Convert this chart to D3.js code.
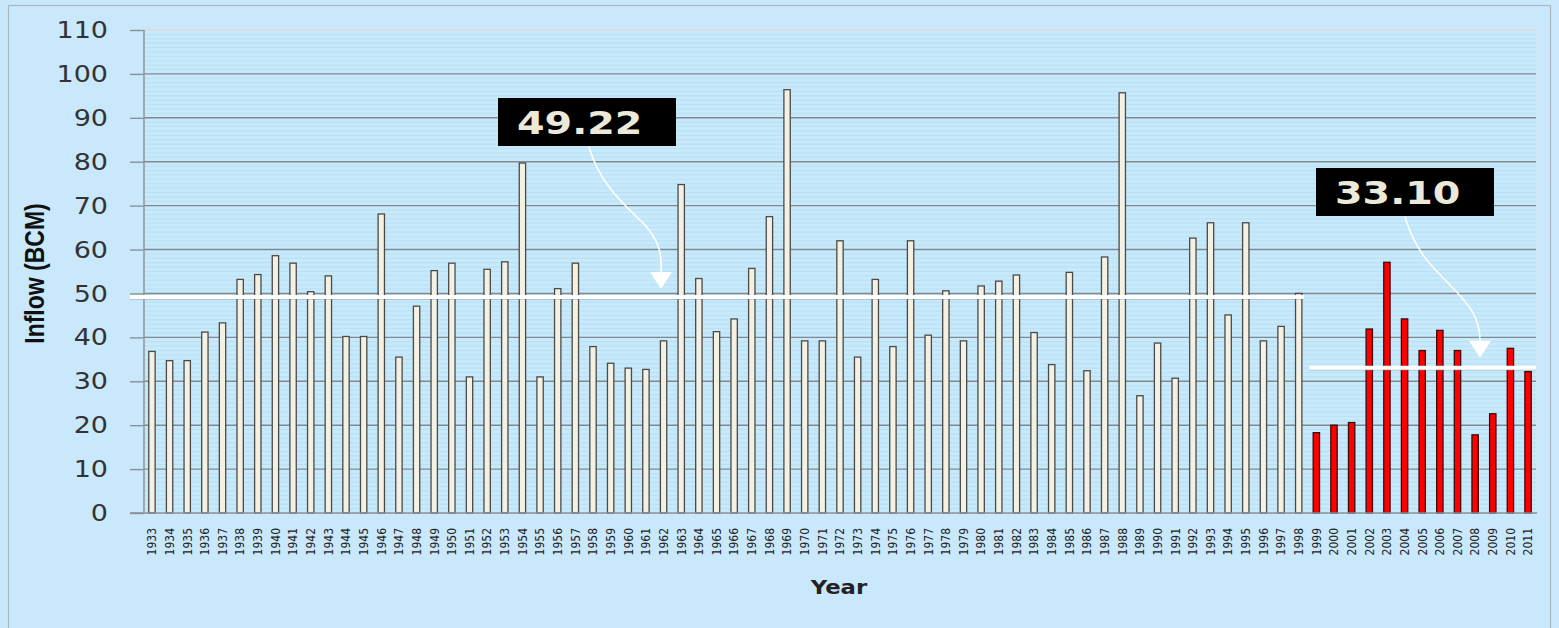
<!DOCTYPE html>
<html>
<head>
<meta charset="utf-8">
<script src="https://cdn.jsdelivr.net/npm/d3@7/dist/d3.min.js"></script>
<style>
  html, body { margin: 0; padding: 0; background: #c9e8fb; }
  svg { display: block; }
</style>
</head>
<body>
<svg id="chart" width="1559" height="628"></svg>
<script>
// Annual inflow (BCM), 1933–2011
const years = d3.range(1933, 2012).map(String);
const inflow = [
  36.8, 34.7, 34.7, 41.2, 43.3, 53.2, 54.3, 58.6, 56.9, 50.4,
  54.0, 40.2, 40.2, 68.1, 35.5, 47.1, 55.2, 56.9, 31.0, 55.5,
  57.2, 79.7, 31.0, 51.1, 56.9, 37.9, 34.1, 33.0, 32.7, 39.2,
  74.8, 53.4, 41.3, 44.2, 55.7, 67.5, 96.4, 39.2, 39.2, 62.0,
  35.5, 53.2, 37.9, 62.0, 40.5, 50.6, 39.2, 51.7, 52.8, 54.2,
  41.1, 33.8, 54.8, 32.4, 58.3, 95.7, 26.7, 38.7, 30.7, 62.6,
  66.1, 45.1, 66.1, 39.2, 42.5, 50.0, 18.3, 20.0, 20.6, 41.9,
  57.1, 44.2, 37.0, 41.6, 37.0, 17.8, 22.6, 37.5, 32.2
];
// Years from 1999 onward are highlighted
const recentStart = "1999";
const avgEarly = 49.22;   // 1933–1998 mean
const avgRecent = 33.10;  // 1999–2011 mean
const yTicks = d3.range(0, 111, 10);

const svg = d3.select("#chart");
const W = 1559, H = 628;
const plot = { left: 144, right: 1536, top: 30, bottom: 513 };
const stretch = 1.2; // horizontal widening of the lettering

const x = d3.scaleBand()
  .domain(years)
  .range([plot.left, plot.right])
  .paddingInner(0.64)
  .paddingOuter(0.27);

const y = d3.scaleLinear().domain([0, 110]).range([plot.bottom, plot.top]);

// page background and frame
svg.append("rect").attr("width", W).attr("height", H).attr("fill", "#c9e8fb");
svg.append("rect").attr("x", 8.5).attr("y", 5.5).attr("width", 1542).attr("height", 640)
  .attr("fill", "none").attr("stroke", "#a9b9c4").attr("stroke-width", 1.2);

// plot area
svg.append("rect").attr("x", plot.left).attr("y", plot.top)
  .attr("width", plot.right - plot.left).attr("height", plot.bottom - plot.top)
  .attr("fill", "#c6e9fb");

// fine horizontal texture lines
const minor = d3.range(1, 110, 1).filter(v => v % 10 !== 0);
svg.append("g").selectAll("line").data(minor).join("line")
  .attr("x1", plot.left).attr("x2", plot.right)
  .attr("y1", d => y(d)).attr("y2", d => y(d))
  .attr("stroke", "#a9d4e5").attr("stroke-width", 0.7).attr("opacity", 0.6);

// y axis ticks (labels drawn separately so they can be widened)
const yAxis = d3.axisLeft(y).tickValues(yTicks).tickSize(14).tickFormat("");
const gy = svg.append("g").attr("transform", `translate(${plot.left},0)`).call(yAxis);
gy.select(".domain").remove();
gy.selectAll(".tick line").attr("stroke", "#8a9195").attr("stroke-width", 1.4);

svg.append("g").selectAll("text").data(yTicks).join("text")
  .attr("transform", d => `translate(108,${y(d)}) scale(${stretch},1)`)
  .attr("text-anchor", "end").attr("dy", "0.36em")
  .attr("font-family", "'DejaVu Sans', Verdana, sans-serif")
  .attr("font-size", 22.5).attr("fill", "#333")
  .text(d3.format("d"));

// major gridlines
svg.append("g").selectAll("line").data(yTicks.filter(d => d > 0)).join("line")
  .attr("x1", plot.left).attr("x2", plot.right)
  .attr("y1", d => y(d)).attr("y2", d => y(d))
  .attr("stroke", d => d === 110 ? "#d8dde0" : "#80898e")
  .attr("stroke-width", d => d === 110 ? 2 : 1.4);

// left axis line and right dashed edge
svg.append("line").attr("x1", plot.left).attr("x2", plot.left)
  .attr("y1", plot.top).attr("y2", plot.bottom)
  .attr("stroke", "#8f9699").attr("stroke-width", 1.5);
svg.append("line").attr("x1", plot.right + 1).attr("x2", plot.right + 1)
  .attr("y1", plot.top).attr("y2", plot.bottom)
  .attr("stroke", "#dfe6ea").attr("stroke-width", 1.2).attr("stroke-dasharray", "4,3");

// bars
svg.append("g").selectAll("rect").data(years).join("rect")
  .attr("x", d => x(d))
  .attr("y", (d, i) => y(inflow[i]))
  .attr("width", x.bandwidth())
  .attr("height", (d, i) => y(0) - y(inflow[i]))
  .attr("fill", d => d >= recentStart ? "#ff0000" : "#f4f1e3")
  .attr("stroke", d => d >= recentStart ? "#3a0b0b" : "#4a4a4a")
  .attr("stroke-width", 1.3);

// x axis: year labels reading bottom-to-top
const xLabels = svg.append("g");
years.forEach(d => {
  xLabels.append("g")
    .attr("transform", `translate(${x(d) + x.bandwidth() / 2},528)`)
    .append("text")
    .attr("transform", "rotate(-90)")
    .attr("text-anchor", "end")
    .attr("dy", "0.36em")
    .attr("font-family", "'DejaVu Sans Condensed', 'DejaVu Sans', sans-serif")
    .attr("font-size", 12).attr("fill", "#222")
    .text(d);
});
svg.append("line").attr("x1", 130).attr("x2", plot.right + 1)
  .attr("y1", plot.bottom).attr("y2", plot.bottom)
  .attr("stroke", "#8a9195").attr("stroke-width", 1.5);

// average lines
function avgLine(x1, x2, v) {
  svg.append("line").attr("x1", x1).attr("x2", x2)
    .attr("y1", y(v) + 1.5).attr("y2", y(v) + 1.5)
    .attr("stroke", "#7c8a92").attr("stroke-width", 3).attr("opacity", 0.35);
  svg.append("line").attr("x1", x1).attr("x2", x2)
    .attr("y1", y(v)).attr("y2", y(v))
    .attr("stroke", "#ffffff").attr("stroke-width", 4);
}
avgLine(130, x("1998") + x.bandwidth() + 2, avgEarly);
avgLine(x(recentStart) - 4, plot.right, avgRecent);

// value labels with curved pointers
function callout(bx, by, label, path, head) {
  svg.append("rect").attr("x", bx).attr("y", by).attr("width", 178).attr("height", 48)
    .attr("fill", "#000");
  svg.append("text")
    .attr("transform", `translate(${bx + 19},${by + 36}) scale(1.22,1)`)
    .attr("font-family", "'DejaVu Sans', Verdana, sans-serif")
    .attr("font-weight", "bold").attr("font-size", 32.5)
    .attr("fill", "#ece9da").text(label);
  svg.append("path").attr("d", path).attr("fill", "none")
    .attr("stroke", "#ffffff").attr("stroke-width", 1.6);
  svg.append("path").attr("d", head).attr("fill", "#ffffff");
}
const tip1 = y(avgEarly) - 8;
callout(498, 98, avgEarly.toFixed(2),
  `M589,147 C600,185 625,205 645,225 C660,242 662,255 661,${tip1 - 16}`,
  `M650,${tip1 - 17} L672,${tip1 - 17} L661,${tip1} Z`);
const tip2 = y(avgRecent) - 10;
callout(1316, 168, avgRecent.toFixed(2),
  `M1405,217 C1415,250 1430,265 1450,285 C1470,305 1480,318 1480,${tip2 - 16}`,
  `M1469,${tip2 - 17} L1491,${tip2 - 17} L1480,${tip2} Z`);

// axis titles
svg.append("text")
  .attr("transform", `translate(44,${(plot.top + plot.bottom) / 2 + 2}) rotate(-90) scale(1,${stretch})`)
  .attr("text-anchor", "middle")
  .attr("font-family", "'Liberation Sans Narrow', 'Arial Narrow', sans-serif")
  .attr("font-weight", "bold").attr("font-size", 23).attr("fill", "#111")
  .text("Inflow (BCM)");
svg.append("text")
  .attr("transform", `translate(839,594) scale(${stretch},1)`)
  .attr("text-anchor", "middle")
  .attr("font-family", "'DejaVu Sans', Verdana, sans-serif")
  .attr("font-weight", "bold").attr("font-size", 19).attr("fill", "#222")
  .text("Year");
</script>
</body>
</html>
